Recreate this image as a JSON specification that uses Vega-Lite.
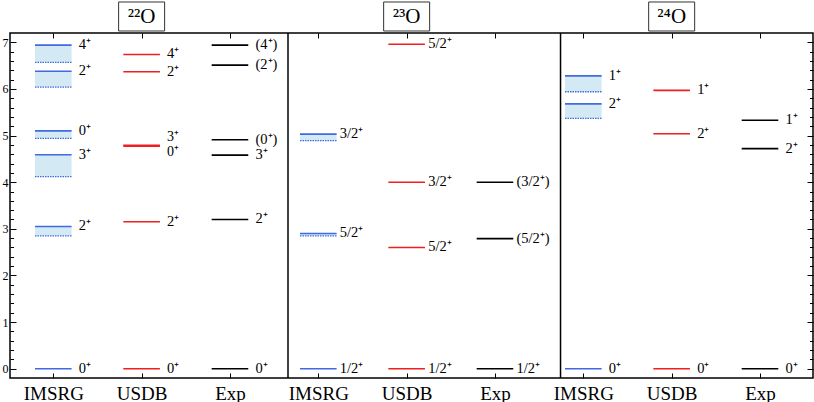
{
  "$schema": "https://vega.github.io/schema/vega-lite/v6.json",
  "width": 803,
  "height": 345,
  "autosize": "none",
  "padding": {"left": 10, "top": 33, "right": 1, "bottom": 24},
  "background": "white",
  "config": {
    "view": {"stroke": "black", "strokeWidth": 1.5},
    "font": "Liberation Serif",
    "axis": {"domain": false, "grid": false, "tickColor": "black", "tickWidth": 1, "labelColor": "black", "labelFont": "Liberation Serif", "title": null}
  },
  "datasets": {
    "levels": [
      {"nuc": "22O", "method": "IMSRG", "slot": 0, "label": "0⁺", "e": 0},
      {"nuc": "22O", "method": "IMSRG", "slot": 0, "label": "2⁺", "e": 3.05, "lo": 2.85},
      {"nuc": "22O", "method": "IMSRG", "slot": 0, "label": "3⁺", "e": 4.59, "lo": 4.12},
      {"nuc": "22O", "method": "IMSRG", "slot": 0, "label": "0⁺", "e": 5.10, "lo": 4.94},
      {"nuc": "22O", "method": "IMSRG", "slot": 0, "label": "2⁺", "e": 6.38, "lo": 6.04},
      {"nuc": "22O", "method": "IMSRG", "slot": 0, "label": "4⁺", "e": 6.94, "lo": 6.57},
      {"nuc": "22O", "method": "USDB", "slot": 1, "label": "0⁺", "e": 0},
      {"nuc": "22O", "method": "USDB", "slot": 1, "label": "2⁺", "e": 3.15},
      {"nuc": "22O", "method": "USDB", "slot": 1, "label": "3⁺", "e": 4.79},
      {"nuc": "22O", "method": "USDB", "slot": 1, "label": "0⁺", "e": 4.77},
      {"nuc": "22O", "method": "USDB", "slot": 1, "label": "2⁺", "e": 6.37},
      {"nuc": "22O", "method": "USDB", "slot": 1, "label": "4⁺", "e": 6.74},
      {"nuc": "22O", "method": "Exp", "slot": 2, "label": "0⁺", "e": 0},
      {"nuc": "22O", "method": "Exp", "slot": 2, "label": "2⁺", "e": 3.20},
      {"nuc": "22O", "method": "Exp", "slot": 2, "label": "3⁺", "e": 4.58},
      {"nuc": "22O", "method": "Exp", "slot": 2, "label": "(0⁺)", "e": 4.91},
      {"nuc": "22O", "method": "Exp", "slot": 2, "label": "(2⁺)", "e": 6.51},
      {"nuc": "22O", "method": "Exp", "slot": 2, "label": "(4⁺)", "e": 6.94},
      {"nuc": "23O", "method": "IMSRG", "slot": 3, "label": "1/2⁺", "e": 0},
      {"nuc": "23O", "method": "IMSRG", "slot": 3, "label": "5/2⁺", "e": 2.90, "lo": 2.85},
      {"nuc": "23O", "method": "IMSRG", "slot": 3, "label": "3/2⁺", "e": 5.03, "lo": 4.89},
      {"nuc": "23O", "method": "USDB", "slot": 4, "label": "1/2⁺", "e": 0},
      {"nuc": "23O", "method": "USDB", "slot": 4, "label": "5/2⁺", "e": 2.60},
      {"nuc": "23O", "method": "USDB", "slot": 4, "label": "3/2⁺", "e": 4.00},
      {"nuc": "23O", "method": "USDB", "slot": 4, "label": "5/2⁺", "e": 6.96},
      {"nuc": "23O", "method": "Exp", "slot": 5, "label": "1/2⁺", "e": 0},
      {"nuc": "23O", "method": "Exp", "slot": 5, "label": "(5/2⁺)", "e": 2.79},
      {"nuc": "23O", "method": "Exp", "slot": 5, "label": "(3/2⁺)", "e": 4.00},
      {"nuc": "24O", "method": "IMSRG", "slot": 6, "label": "0⁺", "e": 0},
      {"nuc": "24O", "method": "IMSRG", "slot": 6, "label": "2⁺", "e": 5.68, "lo": 5.37},
      {"nuc": "24O", "method": "IMSRG", "slot": 6, "label": "1⁺", "e": 6.28, "lo": 5.94},
      {"nuc": "24O", "method": "USDB", "slot": 7, "label": "0⁺", "e": 0},
      {"nuc": "24O", "method": "USDB", "slot": 7, "label": "2⁺", "e": 5.04},
      {"nuc": "24O", "method": "USDB", "slot": 7, "label": "1⁺", "e": 5.97},
      {"nuc": "24O", "method": "Exp", "slot": 8, "label": "0⁺", "e": 0},
      {"nuc": "24O", "method": "Exp", "slot": 8, "label": "2⁺", "e": 4.72},
      {"nuc": "24O", "method": "Exp", "slot": 8, "label": "1⁺", "e": 5.33}
    ],
    "dividers": [{"slot": 2.657}, {"slot": 5.742}],
    "titles": [
      {"slot": 1, "nucleus": "²²O"},
      {"slot": 4, "nucleus": "²³O"},
      {"slot": 7, "nucleus": "²⁴O"}
    ]
  },
  "resolve": {"axis": {"x": "independent", "y": "independent"}},
  "layer": [
    {
      "data": {"name": "levels"},
      "transform": [{"filter": "isValid(datum.lo)"}],
      "mark": {"type": "rule", "strokeWidth": 36.6, "color": "#d3e9f3", "strokeCap": "butt"},
      "encoding": {
        "x": {"field": "slot", "type": "quantitative", "scale": {"domain": [-0.49, 8.6], "nice": false, "zero": false},
          "axis": {"orient": "top", "values": [0, 1, 2, 3, 4, 5, 6, 7, 8], "labels": false, "tickSize": 5, "offset": -5}},
        "y": {"field": "e", "type": "quantitative", "scale": {"domain": [-0.2, 7.2], "nice": false, "zero": false},
          "axis": {"orient": "left", "values": [0, 1, 2, 3, 4, 5, 6, 7], "format": "d",
            "tickSize": 6, "offset": -6, "labelFontSize": 12, "labelPadding": 2}},
        "y2": {"field": "lo"}
      }
    },
    {
      "data": {"name": "levels"},
      "transform": [{"filter": "isValid(datum.lo)"}],
      "mark": {"type": "rule", "strokeWidth": 1.3, "color": "#4169e1", "strokeDash": [1.5, 1], "xOffset": -18.3, "x2Offset": 18.3},
      "encoding": {
        "x": {"field": "slot", "type": "quantitative", "scale": {"domain": [-0.49, 8.6], "nice": false, "zero": false}, "axis": null},
        "x2": {"field": "slot"},
        "y": {"field": "lo", "type": "quantitative", "scale": {"domain": [-0.2, 7.2], "nice": false, "zero": false},
          "axis": {"orient": "left",
            "values": [0.2, 0.4, 0.6, 0.8, 1.2, 1.4, 1.6, 1.8, 2.2, 2.4, 2.6, 2.8, 3.2, 3.4, 3.6, 3.8, 4.2, 4.4, 4.6, 4.8, 5.2, 5.4, 5.6, 5.8, 6.2, 6.4, 6.6, 6.8],
            "labels": false, "tickSize": 3.5, "offset": -3.5}}
      }
    },
    {
      "data": {"name": "dividers"},
      "mark": {"type": "rule", "strokeWidth": 1.5, "color": "black"},
      "encoding": {
        "x": {"field": "slot", "type": "quantitative", "scale": {"domain": [-0.49, 8.6], "nice": false, "zero": false},
          "axis": {"orient": "bottom", "values": [0, 1, 2, 3, 4, 5, 6, 7, 8],
            "labelExpr": "['IMSRG','USDB','Exp'][datum.value % 3]",
            "tickSize": 5, "offset": -5, "labelFontSize": 19, "labelPadding": 6}}
      }
    },
    {
      "data": {"name": "levels"},
      "mark": {"type": "rule", "strokeWidth": 1.6, "xOffset": -18.3, "x2Offset": 18.3},
      "encoding": {
        "x": {"field": "slot", "type": "quantitative", "scale": {"domain": [-0.49, 8.6], "nice": false, "zero": false}, "axis": null},
        "x2": {"field": "slot"},
        "y": {"field": "e", "type": "quantitative", "scale": {"domain": [-0.2, 7.2], "nice": false, "zero": false},
          "axis": {"orient": "right", "values": [0, 1, 2, 3, 4, 5, 6, 7], "labels": false, "tickSize": 6, "offset": -6}},
        "color": {"field": "method", "type": "nominal", "scale": {"domain": ["IMSRG", "USDB", "Exp"], "range": ["#4169e1", "#f01e1e", "black"]}, "legend": null}
      }
    },
    {
      "data": {"name": "levels"},
      "transform": [{"filter": "datum.nuc != '23O' && !(datum.slot == 1 && datum.e > 4.7 && datum.e < 4.9)"}],
      "mark": {"type": "text", "align": "left", "baseline": "middle", "dx": 25.5, "fontSize": 14.5, "color": "black", "font": "Liberation Serif"},
      "encoding": {
        "x": {"field": "slot", "type": "quantitative", "scale": {"domain": [-0.49, 8.6], "nice": false, "zero": false}, "axis": null},
        "y": {"field": "e", "type": "quantitative", "scale": {"domain": [-0.2, 7.2], "nice": false, "zero": false},
          "axis": {"orient": "right",
            "values": [0.2, 0.4, 0.6, 0.8, 1.2, 1.4, 1.6, 1.8, 2.2, 2.4, 2.6, 2.8, 3.2, 3.4, 3.6, 3.8, 4.2, 4.4, 4.6, 4.8, 5.2, 5.4, 5.6, 5.8, 6.2, 6.4, 6.6, 6.8],
            "labels": false, "tickSize": 3.5, "offset": -3.5}},
        "text": {"field": "label"}
      }
    },
    {
      "data": {"name": "levels"},
      "transform": [{"filter": "datum.nuc == '23O'"}],
      "mark": {"type": "text", "align": "left", "baseline": "middle", "dx": 21.5, "fontSize": 14.5, "color": "black", "font": "Liberation Serif"},
      "encoding": {
        "x": {"field": "slot", "type": "quantitative", "scale": {"domain": [-0.49, 8.6], "nice": false, "zero": false}, "axis": null},
        "y": {"field": "e", "type": "quantitative", "scale": {"domain": [-0.2, 7.2], "nice": false, "zero": false}, "axis": null},
        "text": {"field": "label"}
      }
    },
    {
      "data": {"name": "levels"},
      "transform": [{"filter": "datum.slot == 1 && datum.label == '3⁺' && datum.e > 4"}],
      "mark": {"type": "text", "align": "left", "baseline": "middle", "dx": 25.5, "dy": -8, "fontSize": 14, "color": "black", "font": "Liberation Serif"},
      "encoding": {
        "x": {"field": "slot", "type": "quantitative", "scale": {"domain": [-0.49, 8.6], "nice": false, "zero": false}, "axis": null},
        "y": {"field": "e", "type": "quantitative", "scale": {"domain": [-0.2, 7.2], "nice": false, "zero": false}, "axis": null},
        "text": {"field": "label"}
      }
    },
    {
      "data": {"name": "levels"},
      "transform": [{"filter": "datum.slot == 1 && datum.label == '0⁺' && datum.e > 4"}],
      "mark": {"type": "text", "align": "left", "baseline": "middle", "dx": 25.5, "dy": 6, "fontSize": 14, "color": "black", "font": "Liberation Serif"},
      "encoding": {
        "x": {"field": "slot", "type": "quantitative", "scale": {"domain": [-0.49, 8.6], "nice": false, "zero": false}, "axis": null},
        "y": {"field": "e", "type": "quantitative", "scale": {"domain": [-0.2, 7.2], "nice": false, "zero": false}, "axis": null},
        "text": {"field": "label"}
      }
    },
    {
      "data": {"name": "titles"},
      "mark": {"type": "rect", "fill": "white", "stroke": "#333", "strokeWidth": 1, "xOffset": -23, "x2Offset": 23},
      "encoding": {
        "x": {"field": "slot", "type": "quantitative", "scale": {"domain": [-0.49, 8.6], "nice": false, "zero": false}, "axis": null},
        "x2": {"field": "slot"},
        "y": {"datum": 7.865, "type": "quantitative", "scale": {"domain": [-0.2, 7.2], "nice": false, "zero": false}, "axis": null},
        "y2": {"datum": 7.243}
      }
    },
    {
      "data": {"name": "titles"},
      "mark": {"type": "text", "align": "center", "baseline": "middle", "fontSize": 21, "color": "black", "font": "Liberation Serif", "dy": 1},
      "encoding": {
        "x": {"field": "slot", "type": "quantitative", "scale": {"domain": [-0.49, 8.6], "nice": false, "zero": false}, "axis": null},
        "y": {"datum": 7.554, "type": "quantitative", "scale": {"domain": [-0.2, 7.2], "nice": false, "zero": false}, "axis": null},
        "text": {"field": "nucleus"}
      }
    }
  ]
}
